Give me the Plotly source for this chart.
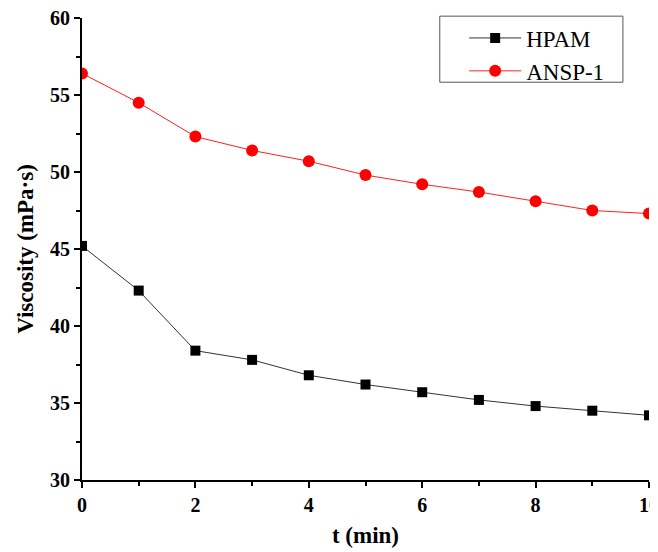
import plotly.graph_objects as go

t_min = [0, 1, 2, 3, 4, 5, 6, 7, 8, 9, 10]
hpam = [45.2, 42.3, 38.4, 37.8, 36.8, 36.2, 35.7, 35.2, 34.8, 34.5, 34.2]
ansp1 = [56.4, 54.5, 52.3, 51.4, 50.7, 49.8, 49.2, 48.7, 48.1, 47.5, 47.3]

fig = go.Figure()
fig.add_trace(go.Scatter(
    x=t_min, y=hpam, name="HPAM", mode="lines+markers",
    line=dict(color="#333333", width=1),
    marker=dict(symbol="square", size=10, color="black"),
))
fig.add_trace(go.Scatter(
    x=t_min, y=ansp1, name="ANSP-1", mode="lines+markers",
    line=dict(color="#ff2020", width=1),
    marker=dict(symbol="circle", size=12, color="#ff0000"),
))

axis_font = dict(family="Liberation Serif", size=20, color="black", weight="bold")
title_font = dict(family="Liberation Serif", size=23, color="black", weight="bold")
fig.update_layout(
    width=650, height=544,
    margin=dict(l=74, r=9, t=10, b=72, autoexpand=False),
    paper_bgcolor="white", plot_bgcolor="white",
    font=dict(family="Liberation Serif", color="black"),
    showlegend=True,
    legend=dict(
        x=0.674, y=0.921, xanchor="left", yanchor="middle",
        borderwidth=0, bgcolor="rgba(0,0,0,0)",
        font=dict(family="Liberation Serif", size=23, color="black"),
        itemwidth=52, tracegroupgap=0,
    ),
    shapes=[dict(
        type="rect", xref="paper", yref="paper",
        x0=0.631, x1=0.954, y0=0.861, y1=1.004,
        line=dict(color="#555555", width=1), fillcolor="rgba(0,0,0,0)",
        layer="above",
    )],
    xaxis=dict(
        range=[0, 10], dtick=2, tick0=0, automargin=False,
        ticklabeloverflow="allow",
        showline=True, linecolor="black", linewidth=2,
        ticks="outside", ticklen=6, tickwidth=2, tickcolor="black",
        minor=dict(dtick=1, ticks="outside", ticklen=4, tickwidth=2, tickcolor="black"),
        showgrid=False, zeroline=False,
        tickfont=axis_font,
        title=dict(text="t (min)", font=title_font, standoff=12),
    ),
    yaxis=dict(
        range=[30, 60], dtick=5, tick0=30, automargin=False,
        ticklabeloverflow="allow",
        showline=True, linecolor="black", linewidth=2,
        ticks="outside", ticklen=6, tickwidth=2, tickcolor="black",
        minor=dict(dtick=2.5, ticks="outside", ticklen=4, tickwidth=2, tickcolor="black"),
        showgrid=False, zeroline=False,
        tickfont=axis_font,
        title=dict(text="Viscosity (mPa·s)", font=title_font, standoff=10),
    ),
)

fig.write_html("out.html")
